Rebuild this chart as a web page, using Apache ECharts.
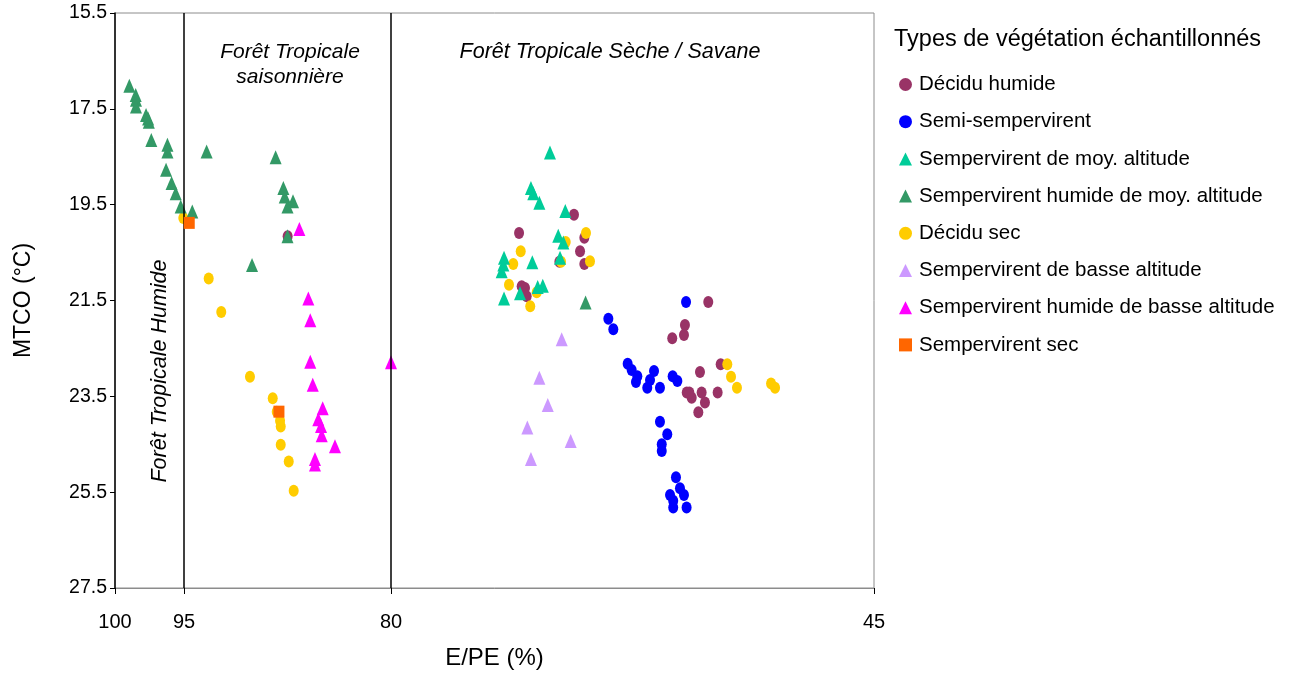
<!DOCTYPE html>
<html>
<head>
<meta charset="utf-8">
<script src="https://cdn.jsdelivr.net/npm/echarts@6/dist/echarts.min.js"></script>
<style>html,body{margin:0;padding:0;background:#fff;}#c{width:1307px;height:675px;}</style>
</head>
<body>
<div id="c"></div>
<script>
// ---- Data (x = E/PE %, y = MTCO °C) ----
const xTicks = [100, 95, 80, 45];
const yTicks = [15.5, 17.5, 19.5, 21.5, 23.5, 25.5, 27.5];
const zoneLines = [95, 80];

const deciduHumide = [
  [66.74,19.71],[70.72,20.09],[65.99,20.19],[66.30,20.47],[67.80,20.69],[65.99,20.74],
  [70.53,21.20],[70.29,21.24],[70.17,21.41],[87.49,20.16],[57.01,21.53],[58.70,22.01],
  [58.77,22.22],[59.62,22.29],[56.11,22.83],[57.61,22.99],[58.57,23.42],[58.21,23.53],
  [57.49,23.42],[57.25,23.63],[56.33,23.42],[57.73,23.83],[58.38,23.42]
];
const semiSempervirent = [
  [58.62,21.53],[64.25,21.88],[63.89,22.10],[62.85,22.82],[62.56,22.95],[62.15,23.08],
  [62.25,23.20],[60.94,22.97],[61.23,23.16],[61.43,23.32],[60.51,23.32],[59.59,23.08],
  [59.25,23.18],[60.51,24.03],[59.98,24.29],[60.38,24.50],[60.38,24.64],[59.35,25.19],
  [59.06,25.42],[59.78,25.56],[58.77,25.56],[59.55,25.82],[58.58,25.82],[59.55,25.68]
];
const sempMoyAlt = [
  [68.48,18.41],[69.86,19.15],[69.69,19.26],[69.25,19.46],[67.37,19.63],[67.88,20.15],
  [67.51,20.29],[67.75,20.61],[69.76,20.70],[71.81,20.61],[71.86,20.75],[71.98,20.89],
  [69.00,21.19],[69.37,21.22],[70.65,21.35],[71.81,21.46]
];
const sempHumMoyAlt = [
  [98.96,17.02],[98.50,17.21],[98.48,17.31],[98.48,17.45],[97.75,17.63],[97.60,17.70],
  [97.55,17.77],[97.37,18.15],[96.20,18.25],[96.20,18.39],[96.30,18.77],[95.90,19.05],
  [95.60,19.26],[95.24,19.54],[94.40,19.64],[93.36,18.39],[88.36,18.51],[87.80,19.15],
  [87.70,19.33],[87.10,19.43],[87.50,19.54],[87.50,20.16],[90.07,20.76],[65.90,21.54]
];
const deciduSec = [
  [65.87,20.09],[67.34,20.28],[70.60,20.47],[71.14,20.74],[65.58,20.68],[67.68,20.69],
  [71.45,21.17],[69.44,21.33],[69.91,21.62],[55.63,22.83],[55.36,23.09],[54.93,23.32],
  [52.46,23.23],[52.17,23.32],[95.05,19.78],[93.21,21.04],[92.30,21.74],[90.22,23.09],
  [88.57,23.54],[88.28,23.82],[88.04,24.01],[87.99,24.13],[87.99,24.51],[87.41,24.86],
  [87.05,25.47]
];
const sempBasseAlt = [
  [67.63,22.31],[69.25,23.11],[68.64,23.68],[70.12,24.15],[66.98,24.43],[69.86,24.81]
];
const sempHumBasseAlt = [
  [86.64,20.01],[85.99,21.46],[85.85,21.91],[85.85,22.78],[85.67,23.26],[84.95,23.75],
  [85.27,23.98],[85.07,24.12],[85.02,24.31],[84.06,24.54],[85.51,24.81],[85.51,24.92],
  [80.00,22.79]
];
const sempSec = [[94.62,19.88],[88.12,23.82]];

const FONT = '"Liberation Sans", Arial, sans-serif';
const ELLIPSE = 'path://M0,50A50,50,0,1,1,100,50A50,50,0,1,1,0,50Z';

const seriesDefs = [
  {name:'Décidu humide', data:deciduHumide, color:'#993366', shape:'circle', z:2},
  {name:'Semi-sempervirent', data:semiSempervirent, color:'#0000FF', shape:'circle', z:2},
  {name:'Sempervirent de moy. altitude', data:sempMoyAlt, color:'#00CC99', shape:'triangle', z:4},
  {name:'Sempervirent humide de moy. altitude', data:sempHumMoyAlt, color:'#339966', shape:'triangle', z:4},
  {name:'Décidu sec', data:deciduSec, color:'#FFCC00', shape:'circle', z:3},
  {name:'Sempervirent de basse altitude', data:sempBasseAlt, color:'#CC99FF', shape:'triangle', z:4},
  {name:'Sempervirent humide de basse altitude', data:sempHumBasseAlt, color:'#FF00FF', shape:'triangle', z:4},
  {name:'Sempervirent sec', data:sempSec, color:'#FF6600', shape:'rect', z:5}
];

const series = seriesDefs.map(d => ({
  name: d.name,
  type: 'scatter',
  data: d.data,
  z: d.z,
  symbol: d.shape === 'circle' ? ELLIPSE : d.shape,
  symbolSize: d.shape === 'circle' ? [10, 12] : (d.shape === 'triangle' ? [12, 14] : [11, 12]),
  itemStyle: {color: d.color, opacity: 1},
  emphasis: {disabled: true}
}));

series.push({
  type: 'scatter', data: [], silent: true,
  markLine: {
    silent: true, symbol: 'none', animation: false,
    label: {show: false},
    lineStyle: {color: '#000', width: 1.5, type: 'solid'},
    data: zoneLines.map(v => ({xAxis: v}))
  }
});

const chart = echarts.init(document.getElementById('c'), null, {renderer: 'canvas'});
chart.setOption({
  animation: false,
  backgroundColor: '#fff',
  textStyle: {fontFamily: FONT},
  title: {
    text: 'Types de végétation échantillonnés',
    left: 889, top: 23,
    textStyle: {fontFamily: FONT, fontSize: 23.5, fontWeight: 'normal', color: '#000'}
  },
  legend: {
    orient: 'vertical', left: 894, top: 69,
    itemWidth: 13, itemHeight: 13, itemGap: 16.2,
    textStyle: {fontFamily: FONT, fontSize: 20.5, color: '#000', lineHeight: 20.5, padding: [0,0,0,2]},
    data: seriesDefs.map(d => ({name: d.name, icon: d.shape})),
    selectedMode: false
  },
  grid: {left: 115, top: 13, right: 433, bottom: 87, show: true, borderColor: '#8c8c8c', borderWidth: 1, backgroundColor: 'transparent'},
  xAxis: {
    type: 'value', min: 45, max: 100, inverse: true,
    name: 'E/PE (%)', nameLocation: 'middle', nameGap: 58,
    nameTextStyle: {fontFamily: FONT, fontSize: 24, color: '#000'},
    axisLine: {show: true, lineStyle: {color: '#8c8c8c', width: 1}},
    axisTick: {show: true, customValues: xTicks, length: 6, lineStyle: {color: '#000'}},
    axisLabel: {customValues: xTicks, margin: 24, fontFamily: FONT, fontSize: 20, color: '#000'},
    splitLine: {show: false}
  },
  yAxis: {
    type: 'value', min: 15.5, max: 27.5, inverse: true,
    name: 'MTCO (°C)', nameLocation: 'middle', nameGap: 80,
    nameTextStyle: {fontFamily: FONT, fontSize: 23, color: '#000'},
    axisLine: {show: true, lineStyle: {color: '#000', width: 1.5}},
    axisTick: {show: true, customValues: yTicks, length: 5, lineStyle: {color: '#000'}},
    axisLabel: {customValues: yTicks, margin: 8, fontFamily: FONT, fontSize: 19.5, color: '#000',
      formatter: v => v.toFixed(1)},
    splitLine: {show: false}
  },
  graphic: [
    {type: 'text', x: 290, y: 52, style: {text: 'Forêt Tropicale', font: 'italic 21px ' + FONT, fill: '#000', align: 'center', verticalAlign: 'middle'}},
    {type: 'text', x: 290, y: 77, style: {text: 'saisonnière', font: 'italic 21px ' + FONT, fill: '#000', align: 'center', verticalAlign: 'middle'}},
    {type: 'text', x: 610, y: 52, style: {text: 'Forêt Tropicale Sèche / Savane', font: 'italic 21.5px ' + FONT, fill: '#000', align: 'center', verticalAlign: 'middle'}},
    {type: 'text', x: 160, y: 371, rotation: Math.PI / 2, style: {text: 'Forêt Tropicale Humide', font: 'italic 21.5px ' + FONT, fill: '#000', align: 'center', verticalAlign: 'middle'}}
  ],
  series: series
});
</script>
</body>
</html>
